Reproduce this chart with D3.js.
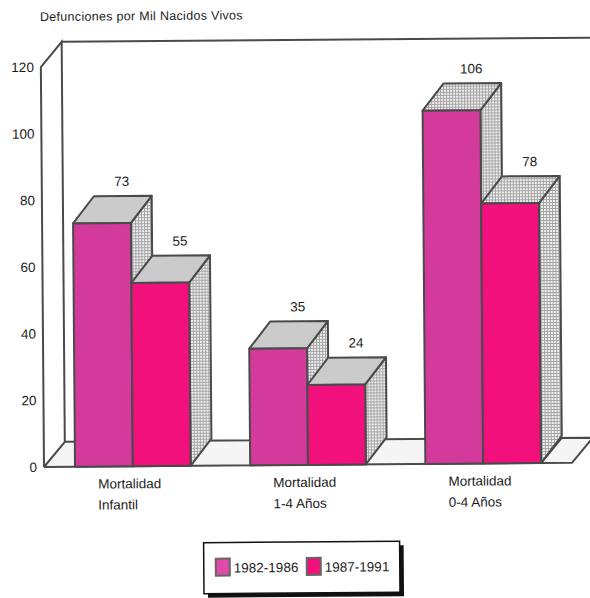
<!DOCTYPE html>
<html lang="es">
<head>
<meta charset="utf-8">
<title>Defunciones por Mil Nacidos Vivos</title>
<script src="https://cdn.jsdelivr.net/npm/d3@7"></script>
<style>
  html, body { margin: 0; padding: 0; background: #fff; }
  svg { display: block; }
  text { font-family: "Liberation Sans", Arial, sans-serif; fill: #1c1c1c; }
</style>
</head>
<body>
<svg id="chart" width="590" height="598"></svg>
<script>
// Chart values
const categories = ["Mortalidad Infantil", "Mortalidad 1-4 Años", "Mortalidad 0-4 Años"];
const categoryLines = [["Mortalidad", "Infantil"], ["Mortalidad", "1-4 Años"], ["Mortalidad", "0-4 Años"]];
const seriesNames = ["1982-1986", "1987-1991"];
const values1982 = [73, 35, 106];
const values1987 = [55, 24, 78];
const yTicks = [0, 20, 40, 60, 80, 100, 120];
const titleText = "Defunciones por Mil Nacidos Vivos";

// Layout of the pseudo-3D box
const width = 590, height = 598;
const originX = 44, baseY = 467, topY = 67;
const wallDx = 21, wallDy = 25;
const barDx = 21, barDy = 27;
const edge = "#4a4a4a";
const seriesColors = ["#d43a9c", "#f2107c"];

const svg = d3.select("#chart");
const defs = svg.append("defs");
const dots = defs.append("pattern")
  .attr("id", "stipple").attr("width", 3).attr("height", 3)
  .attr("patternUnits", "userSpaceOnUse");
dots.append("rect").attr("width", 3).attr("height", 3).attr("fill", "#a4a4a4");
dots.append("rect").attr("width", 2).attr("height", 2).attr("fill", "#f1f1f1");

// The whole drawing sits at a very slight tilt
const g = svg.append("g").attr("transform", `rotate(-0.45 ${originX} ${baseY})`);

const y = d3.scaleLinear().domain([0, 120]).range([baseY, topY]);
const x0 = d3.scaleBand().domain(categories).range([75, 541]).paddingInner(0.34).paddingOuter(0);
const x1 = d3.scaleBand().domain(seriesNames).range([0, x0.bandwidth()]);

const line = (points) => d3.line()(points);
const closed = (points) => d3.line()(points) + "Z";
const frame = g.append("g").attr("fill", "none").attr("stroke", edge).attr("stroke-width", 2);

const floorRight = 572;

// Floor
g.insert("path", "g")
  .attr("d", closed([[originX, y(0)], [originX + wallDx, y(0) - wallDy], [floorRight + wallDx, y(0) - wallDy], [floorRight, y(0)]]))
  .attr("fill", "#f5f5f5");

// Left wall, back wall and floor outlines
frame.append("path").attr("d", line([[originX, y(0)], [originX, y(120)], [originX + wallDx, y(120) - wallDy], [originX + wallDx, y(0) - wallDy], [originX, y(0)]]));
frame.append("path").attr("d", line([[originX + wallDx, y(120) - wallDy], [width + 6, y(120) - wallDy]]));
frame.append("path").attr("d", line([[originX + wallDx, y(0) - wallDy], [floorRight + wallDx, y(0) - wallDy], [floorRight, y(0)], [originX, y(0)]]));
const lastRight = x0(categories[2]) + x0.bandwidth();
frame.append("path").attr("d", line([[lastRight, y(0)], [lastRight + barDx, y(0) - wallDy]]));

// Value-axis labels
const axis = g.append("g")
  .attr("transform", `translate(${originX - 6},0)`)
  .call(d3.axisLeft(y).tickValues(yTicks).tickSize(0).tickPadding(1));
axis.select(".domain").remove();
axis.selectAll("text").attr("font-size", 13.5).style("font-family", '"Liberation Sans", Arial, sans-serif').attr("fill", "#1c1c1c");

// Bars: side, top, then front, with the later series in front of the earlier one
const seriesValues = [values1982, values1987];
categories.forEach((cat, c) => {
  const group = g.append("g").attr("class", "bar-group");
  seriesNames.forEach((name, s) => {
    const value = seriesValues[s][c];
    const left = x0(cat) + x1(name);
    const right = left + x1.bandwidth();
    const top = y(value);
    const bottom = y(0);
    const bar = group.append("g").attr("stroke", edge).attr("stroke-width", 2).attr("stroke-linejoin", "round");
    bar.append("path")
      .attr("d", closed([[right, bottom], [right, top], [right + barDx, top - barDy], [right + barDx, bottom - barDy]]))
      .attr("fill", "url(#stipple)");
    bar.append("path")
      .attr("d", closed([[left, top], [left + barDx, top - barDy], [right + barDx, top - barDy], [right, top]]))
      .attr("fill", c === 2 ? "url(#stipple)" : "#cbcbcb");
    bar.append("rect")
      .attr("x", left).attr("y", top)
      .attr("width", x1.bandwidth()).attr("height", bottom - top)
      .attr("fill", seriesColors[s]);
    group.append("text")
      .attr("x", (left + right) / 2 + barDx - 1)
      .attr("y", top - barDy - 10)
      .attr("text-anchor", "middle")
      .attr("font-size", 13.5)
      .text(value);
  });
  // Two-line category label, left aligned under the bar pair
  const label = group.append("text").attr("font-size", 13.5);
  categoryLines[c].forEach((t, i) => {
    label.append("tspan")
      .attr("x", x0(cat) + 23)
      .attr("y", y(0) + 22 + i * 21)
      .text(t);
  });
});

// Title
g.append("text")
  .attr("x", 43.5).attr("y", 21)
  .attr("font-size", 12.5)
  .attr("letter-spacing", 0.3)
  .text(titleText);

// Legend box with a hard drop shadow
const legend = g.append("g").attr("transform", "translate(203,544)");
const boxW = 196, boxH = 51;
legend.append("rect").attr("x", 4).attr("y", 4).attr("width", boxW).attr("height", boxH).attr("fill", "#111");
legend.append("rect").attr("width", boxW).attr("height", boxH).attr("fill", "#fff").attr("stroke", "#111").attr("stroke-width", 1.5);
seriesNames.forEach((name, i) => {
  const item = legend.append("g").attr("transform", `translate(${12 + i * 91},16)`);
  item.append("rect").attr("width", 14).attr("height", 17)
    .attr("fill", i === 0 ? "#e04aa8" : seriesColors[1])
    .attr("stroke", "#666").attr("stroke-width", 2);
  item.append("text").attr("x", 18).attr("y", 14).attr("font-size", 13.5).text(name);
});
</script>
</body>
</html>
